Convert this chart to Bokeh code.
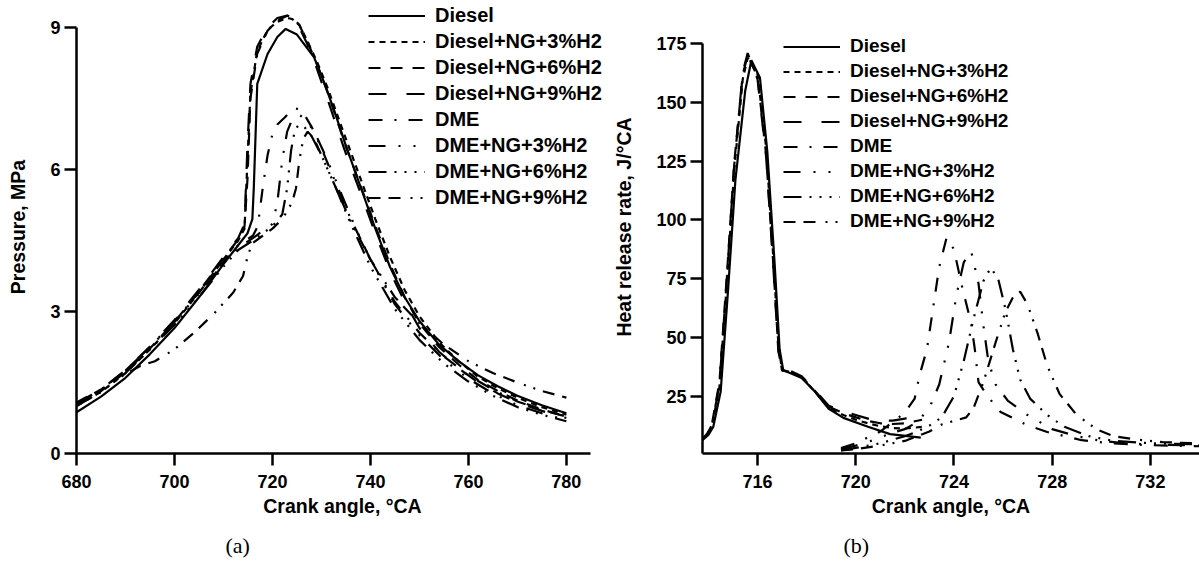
from bokeh.plotting import figure
from bokeh.models import Range1d, Legend, LegendItem, Title, FixedTicker
from bokeh.layouts import row
from bokeh.embed import file_html
from bokeh.resources import INLINE

# ---------------- data ----------------
SERIES = ["Diesel", "Diesel+NG+3%H2", "Diesel+NG+6%H2", "Diesel+NG+9%H2",
          "DME", "DME+NG+3%H2", "DME+NG+6%H2", "DME+NG+9%H2"]
DASHES = ["solid", "6 5", "12 10", "18 20", "14 12 2 12", "17 13 2 13 2 12",
          "18 8 2 8 2 8 2 8", "12 8 12 10 2 8 2 8"]

# (a) cylinder pressure, MPa
A_DIESEL_X = [680, 685, 690, 695, 700, 705, 710, 713, 714.9, 715.9, 716.2, 716.9, 719, 721, 722.7, 725,
              728.5, 730.5, 732.6, 735, 738, 741, 744, 747, 750, 754, 758, 762, 766, 770, 775, 780]
A_DIESEL_Y = [0.87, 1.2, 1.6, 2.1, 2.65, 3.3, 4.0, 4.4, 4.65, 4.95, 5.63, 7.81, 8.44, 8.8, 8.97, 8.85,
              8.37, 7.85, 7.25, 6.5, 5.63, 4.75, 3.94, 3.3, 2.8, 2.3, 1.95, 1.65, 1.42, 1.22, 1.02, 0.85]
A_NG_X = [680, 685, 690, 695, 700, 705, 710, 713, 714.3, 714.9, 715.5, 716.9, 719, 721, 723, 724, 725.5,
          727.1, 729, 731.2, 734.6, 738, 741, 744, 747, 750, 754, 758, 762, 766, 770, 775, 780]
A_NG3_Y = [1.0, 1.3, 1.7, 2.2, 2.75, 3.4, 4.1, 4.5, 4.75, 6.2, 7.6, 8.5, 8.95, 9.12, 9.2, 9.18, 9.05,
           8.72, 8.3, 7.74, 6.76, 5.8, 4.95, 4.15, 3.45, 2.9, 2.35, 1.95, 1.62, 1.38, 1.18, 0.98, 0.82]
A_NG6_Y = [1.02, 1.32, 1.72, 2.22, 2.78, 3.42, 4.12, 4.52, 4.8, 5.8, 7.5, 8.45, 8.93, 9.15, 9.25, 9.22, 9.05,
           8.7, 8.25, 7.65, 6.6, 5.65, 4.8, 4.0, 3.3, 2.75, 2.25, 1.88, 1.55, 1.32, 1.12, 0.93, 0.78]
A_NG9_Y = [1.05, 1.35, 1.76, 2.26, 2.82, 3.46, 4.15, 4.55, 4.85, 6.5, 7.8, 8.6, 9.0, 9.2, 9.25, 9.2, 9.0,
           8.65, 8.15, 7.5, 6.45, 5.5, 4.65, 3.85, 3.2, 2.65, 2.15, 1.8, 1.5, 1.27, 1.08, 0.9, 0.75]
A_DME_X = [680, 685, 690, 695, 700, 705, 710, 713, 716, 717, 718, 719, 720, 721, 722.5, 724.4,
           726, 728, 730, 733, 736, 740, 745, 750, 755, 760, 765, 770, 775, 780]
A_DME_Y = [1.05, 1.35, 1.75, 2.25, 2.8, 3.4, 4.05, 4.4, 4.6, 4.8, 5.6, 6.3, 6.75, 6.95, 7.1, 7.3,
           7.25, 6.9, 6.45, 5.7, 4.95, 4.1, 3.2, 2.55, 2.05, 1.65, 1.35, 1.1, 0.92, 0.78]
A_DME3_X = [680, 685, 690, 695, 700, 705, 710, 713, 716, 718, 720, 721, 722, 723, 724, 725.5,
            727, 729, 731, 734, 737, 740, 745, 750, 755, 760, 765, 770, 775, 780]
A_DME3_Y = [1.05, 1.35, 1.75, 2.25, 2.78, 3.38, 4.02, 4.35, 4.55, 4.7, 4.85, 5.3, 6.2, 6.8, 7.05, 7.15,
            7.05, 6.7, 6.25, 5.5, 4.75, 4.1, 3.15, 2.5, 1.98, 1.58, 1.27, 1.02, 0.85, 0.7]
A_DME6_X = [680, 685, 690, 695, 700, 705, 710, 713, 716, 718, 720, 722, 723, 723.8, 724.6, 725.5,
            726.5, 728, 730, 733, 736, 740, 745, 750, 755, 760, 765, 770, 775, 780]
A_DME6_Y = [1.0, 1.3, 1.7, 2.2, 2.72, 3.3, 3.95, 4.3, 4.5, 4.65, 4.8, 5.05, 5.6, 6.4, 6.85, 6.95,
            6.9, 6.7, 6.3, 5.6, 4.85, 3.95, 3.05, 2.4, 1.9, 1.52, 1.22, 0.98, 0.82, 0.68]
A_DME9_X = [680, 685, 690, 693, 696, 700, 704, 708, 712, 714, 715, 716, 718, 720, 722, 724,
            724.8, 725.5, 726.3, 727.2, 728.5, 730, 733, 736, 740, 745, 750, 755, 760, 765, 770, 775, 780]
A_DME9_Y = [1.08, 1.35, 1.68, 1.85, 1.95, 2.2, 2.55, 2.95, 3.4, 3.75, 4.2, 4.45, 4.6, 4.75, 4.95, 5.3,
            5.6, 6.2, 6.65, 6.8, 6.65, 6.3, 5.6, 4.9, 4.1, 3.3, 2.75, 2.3, 1.95, 1.7, 1.5, 1.32, 1.18]

# (b) heat release rate, J/°CA
B_DIESEL_X = [713.7, 714.0, 714.2, 714.5, 714.8, 715.1, 715.5, 715.75, 716.1, 716.4, 716.7, 716.9,
              717.05, 717.3, 717.8, 718.3, 718.9, 719.5, 720.5, 721.4, 722.65]
B_DIESEL_Y = [5.8, 8.5, 12, 27, 70, 117, 155, 168, 160.5, 129, 81, 45,
              36, 35, 32.8, 27.4, 19.7, 15.8, 12, 8.9, 7.4]
B_NG_X = [713.7, 713.95, 714.15, 714.45, 714.75, 715.05, 715.4, 715.6, 716.0, 716.35, 716.65, 716.85,
          717.0, 717.3, 717.8, 718.3, 718.9, 719.5, 720.0, 720.5, 721.0, 721.5, 722.0, 722.7]
B_NG3_Y = [6.0, 8.5, 12.5, 29, 73, 121, 160, 169, 162, 131, 83, 47,
           36, 35.5, 33, 27.5, 20, 17, 15, 13.5, 12.2, 11.5, 11.2, 12]
B_NG6_Y = [6.2, 9, 13.5, 31, 76, 124, 162, 170, 161, 128, 80, 45,
           36, 35.5, 33.2, 27.8, 20.5, 17.8, 16, 14.5, 13.5, 13.2, 13.5, 15]
B_NG9_Y = [6.0, 8.8, 13, 30, 75, 123, 163, 171, 160, 127, 79, 44,
           36.5, 36, 33.5, 28, 21, 18.5, 17, 15.5, 14.8, 14.6, 15.5, 17.5]
B_DME_X = [719.4, 720.0, 720.5, 721.0, 721.5, 722.0, 722.4, 722.6, 722.9, 723.2, 723.4, 723.7, 724.0,
           724.3, 724.7, 724.85, 725.0, 725.35, 725.9, 727.0, 727.8, 729.2, 730.5, 731.9, 735.0]
B_DME_Y = [3, 5, 7.5, 10, 14, 18, 24, 34, 45, 66, 80, 92.5, 87.5,
           73, 56, 45, 31, 25.3, 18.3, 12.6, 9.8, 6.3, 4.9, 4.2, 3.5]
B_DME3_X = [719.4, 720.0, 720.5, 721.0, 721.5, 722.0, 722.5, 723.0, 723.4, 723.8, 724.1, 724.4, 724.7,
            725.0, 725.2, 725.4, 725.7, 726.2, 727.0, 728.0, 729.0, 730.0, 731.0, 732.0, 735.0]
B_DME3_Y = [2.5, 4, 5.5, 7.5, 9.5, 11, 14, 20, 30, 48, 68, 82, 86.8,
            73, 55, 40, 30, 23, 17, 11, 8, 6, 5, 4.5, 3.8]
B_DME6_X = [719.4, 720.0, 721.0, 721.5, 722.0, 722.5, 723.0, 723.5, 724.0, 724.4, 724.8, 725.2, 725.5,
            725.8, 726.1, 726.4, 726.7, 727.1, 727.8, 728.5, 729.5, 730.5, 732.0, 735.0]
B_DME6_Y = [2, 3, 5, 6.5, 8, 10, 12.5, 16, 25, 40, 58, 74, 79.7,
            75, 62, 45, 32, 24, 17, 12, 8, 6, 5, 4.3]
B_DME9_X = [719.4, 720.0, 721.0, 721.5, 722.0, 722.5, 723.0, 723.5, 724.0, 724.5, 724.8, 725.2, 725.7,
            726.1, 726.4, 726.7, 727.0, 727.4, 727.8, 728.3, 729.0, 729.8, 730.5, 731.5, 732.5, 735.0]
B_DME9_Y = [2, 2.5, 4, 5, 6, 8, 10, 13, 14.5, 16, 20, 31, 48,
            61, 67, 69.5, 64, 52, 38, 26, 17, 11, 8, 6.5, 5.5, 4.5]

A_XTICKS = [680, 700, 720, 740, 760, 780]
A_YTICKS = [0, 3, 6, 9]
B_XTICKS = [716, 720, 724, 728, 732]
B_YTICKS = [25, 50, 75, 100, 125, 150, 175]

A_DATA = [(A_DIESEL_X, A_DIESEL_Y), (A_NG_X, A_NG3_Y), (A_NG_X, A_NG6_Y), (A_NG_X, A_NG9_Y),
          (A_DME_X, A_DME_Y), (A_DME3_X, A_DME3_Y), (A_DME6_X, A_DME6_Y), (A_DME9_X, A_DME9_Y)]
B_DATA = [(B_DIESEL_X, B_DIESEL_Y), (B_NG_X, B_NG3_Y), (B_NG_X, B_NG6_Y), (B_NG_X, B_NG9_Y),
          (B_DME_X, B_DME_Y), (B_DME3_X, B_DME3_Y), (B_DME6_X, B_DME6_Y), (B_DME9_X, B_DME9_Y)]

FONT = "Liberation Sans"


def make_panel(width, xr, xbounds, yr, xticks, yticks, ybounds, ylabel, data, tag, tag_offset,
               border_left, border_right, border_bottom, legend_loc, legend_font):
    p = figure(width=width, height=569, output_backend="svg", toolbar_location=None,
               x_range=Range1d(*xr), y_range=Range1d(*yr),
               min_border_left=border_left, min_border_right=border_right,
               min_border_top=0, min_border_bottom=border_bottom)
    p.outline_line_color = None
    p.xgrid.visible = False
    p.ygrid.visible = False
    p.background_fill_color = "white"
    p.border_fill_color = "white"

    for ax in (p.xaxis[0], p.yaxis[0]):
        ax.axis_line_width = 2.5
        ax.axis_line_color = "black"
        ax.major_tick_line_width = 2.5
        ax.major_tick_line_color = "black"
        ax.major_tick_out = 12
        ax.major_tick_in = 0
        ax.minor_tick_line_color = None
        ax.major_label_text_font = FONT
        ax.major_label_text_font_style = "bold"
        ax.major_label_text_font_size = "18px"
        ax.major_label_text_color = "black"
        ax.axis_label_text_font = FONT
        ax.axis_label_text_font_style = "bold"
        ax.axis_label_text_font_size = "19.5px"
        ax.axis_label_text_color = "black"

    p.xaxis[0].ticker = FixedTicker(ticks=xticks)
    p.yaxis[0].ticker = FixedTicker(ticks=yticks)
    p.yaxis[0].bounds = ybounds
    if xbounds is not None:
        p.xaxis[0].bounds = xbounds
    p.xaxis[0].axis_label = "Crank angle, °CA"
    p.yaxis[0].axis_label = ylabel
    p.xaxis[0].major_label_standoff = 9
    p.yaxis[0].major_label_standoff = 4
    p.xaxis[0].axis_label_standoff = 4
    p.yaxis[0].axis_label_standoff = 18

    items = []
    for name, dash, (xs, ys) in zip(SERIES, DASHES, data):
        r = p.line(xs, ys, line_color="black", line_width=2.2, line_dash=dash)
        items.append(LegendItem(label=name, renderers=[r]))

    leg = Legend(items=items, location=legend_loc)
    leg.background_fill_alpha = 0
    leg.border_line_color = None
    leg.padding = 0
    leg.margin = 0
    leg.spacing = 3
    leg.glyph_width = 57
    leg.glyph_height = 21
    leg.label_height = 21
    leg.label_standoff = 10
    leg.label_text_font = FONT
    leg.label_text_font_style = "bold"
    leg.label_text_font_size = legend_font
    leg.label_text_color = "black"
    p.add_layout(leg, "center")

    t = Title(text=tag, align="left", offset=tag_offset, text_font="Liberation Serif",
              text_font_style="normal", text_font_size="22px", text_color="black", standoff=23)
    p.add_layout(t, "below")
    return p


pa = make_panel(608, (680, 788.6), (680, 785), (0, 9.57), A_XTICKS, A_YTICKS, (0, 9), "Pressure, MPa",
                A_DATA, "(a)", 149, 76, 0, 116, (292, 244), "20px")
pb = make_panel(591, (713.76, 734.0), None, (0.64, 193.4), B_XTICKS, B_YTICKS, (0.64, 175),
                "Heat release rate, J/°CA", B_DATA, "(b)", 141, 94, 0, 114, (81, 221), "19px")

layout = row(pa, pb)
open("out.html", "w").write(file_html(layout, INLINE))
